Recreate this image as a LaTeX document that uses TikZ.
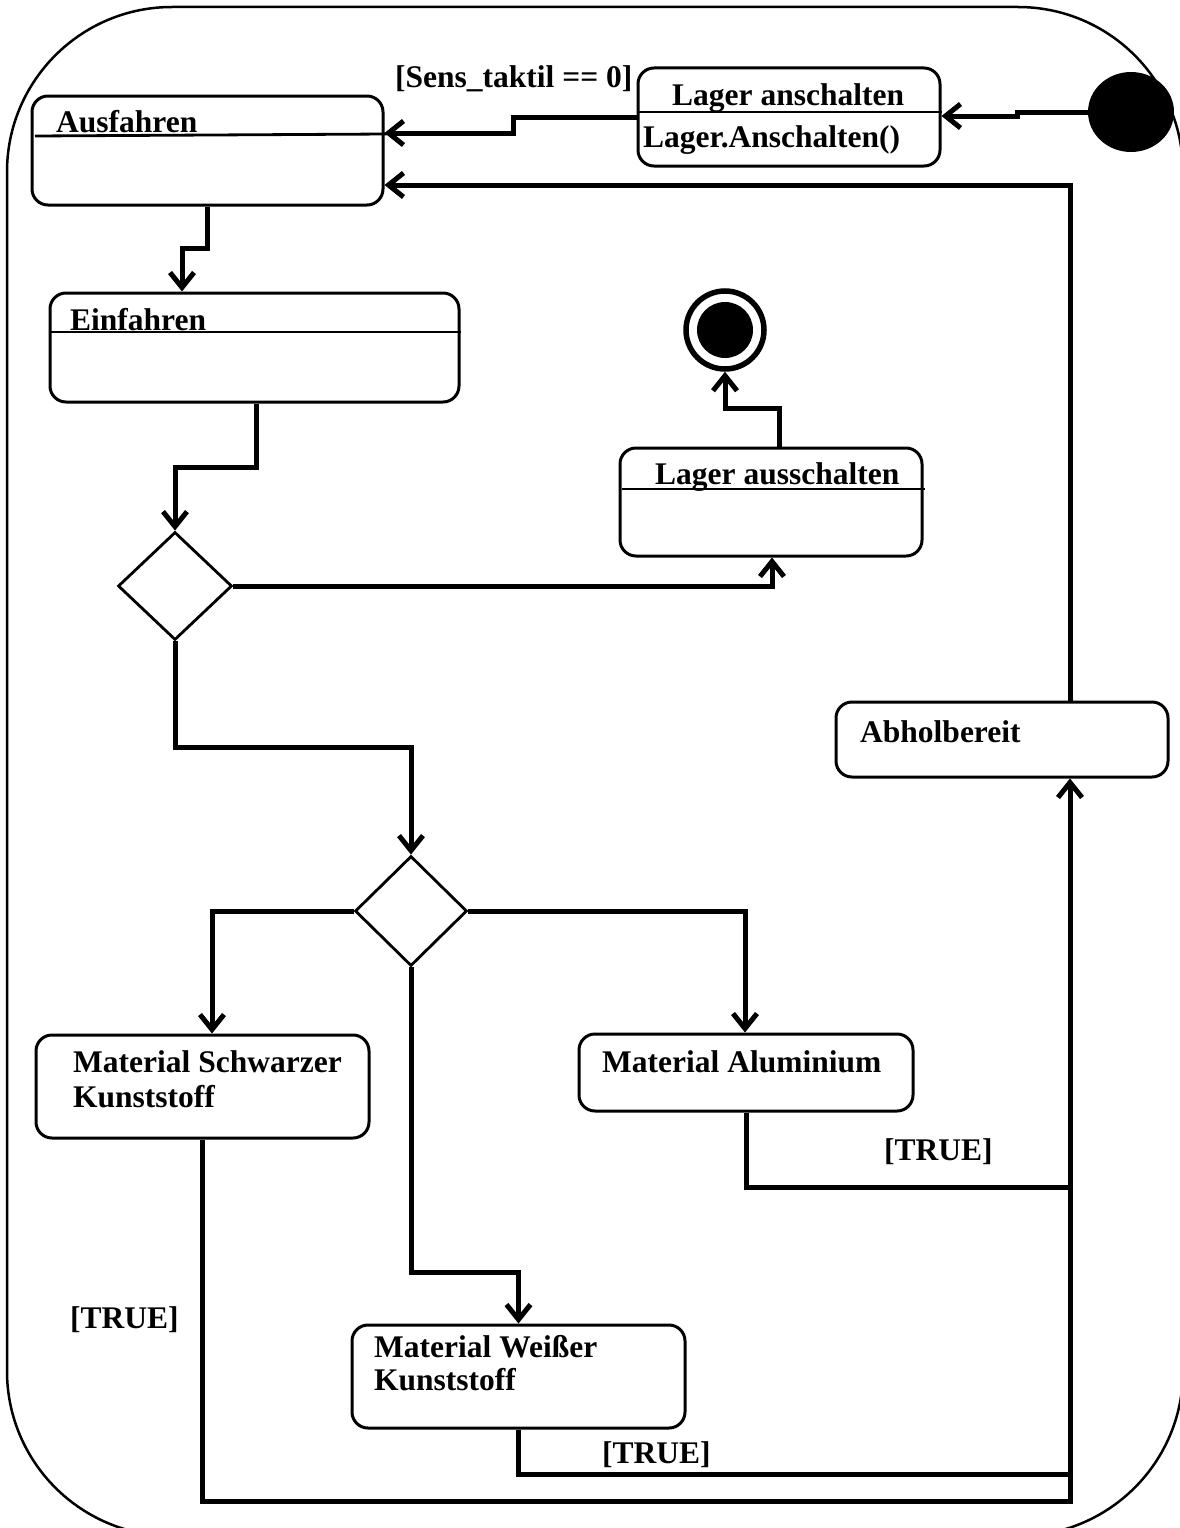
\documentclass[tikz,border=0pt]{standalone}
\usepackage{fontspec}
\setmainfont{Liberation Serif}
\usetikzlibrary{shapes.geometric,arrows.meta}
\tikzset{
  box/.style={draw, line width=3pt, rounded corners=16pt, inner sep=0pt},
  divider/.style={line width=2.8pt},
  conn/.style={line width=5pt, line join=miter},
  arr/.style={conn, -{Straight Barb[length=15pt,width=24pt]}},
  lbl/.style={anchor=base west, inner sep=0pt, font=\fontsize{31.5}{35}\selectfont\bfseries},
  dec/.style={diamond, draw, line width=2.8pt, inner sep=0pt},
  frame/.style={line width=2.5pt, rounded corners=165pt}
}
\begin{document}
\begin{tikzpicture}[x=1pt,y=-1pt]
\useasboundingbox (0,0) rectangle (1180,1528);
\clip (0,0) rectangle (1180,1528);
\draw[frame] (7,7) rectangle (1183,1536);

% states
\node[box, minimum width=351pt, minimum height=109pt] (aus) at (207.5,150.5) {};
\node[box, minimum width=302pt, minimum height=98pt] (lan) at (789,117) {};
\node[box, minimum width=409pt, minimum height=109pt] (ein) at (254.5,347.5) {};
\node[box, minimum width=302pt, minimum height=108pt] (laus) at (771,502) {};
\node[box, minimum width=332pt, minimum height=75pt] (abh) at (1002,739.5) {};
\node[box, minimum width=333pt, minimum height=103pt] (sch) at (202.5,1086.5) {};
\node[box, minimum width=334pt, minimum height=77pt] (alu) at (746,1072.5) {};
\node[box, minimum width=333pt, minimum height=103pt] (wei) at (518.5,1376.5) {};

% dividers
\draw[divider] (35,136) -- (387,134);
\draw[divider] (lan.west |- 0,112) -- (lan.east |- 0,112);
\draw[divider] (ein.west |- 0,332) -- (ein.east |- 0,332);
\draw[divider] (622,489) -- (925,489);

% decisions
\node[dec, minimum width=114pt, minimum height=108pt] (d1) at (175,586) {};
\node[dec, minimum width=112pt, minimum height=110pt] (d2) at (411,911) {};

% initial and final
\node[ellipse, fill=black, minimum width=86pt, minimum height=80pt, inner sep=0pt] (init) at (1131,112) {};
\node[circle, draw, line width=5.5pt, minimum size=78pt, inner sep=0pt] (fin) at (725,330) {};
\node[circle, fill=black, minimum size=56pt, inner sep=0pt] (finin) at (fin.center) {};

% texts
\node[lbl] (g1) at (395,88) {[Sens\_taktil == 0]};
\node[lbl] (tlan) at (672,105) {Lager anschalten};
\node[lbl] (tlan2) at (643,147) {Lager.Anschalten()};
\node[lbl] (taus) at (56,132) {Ausfahren};
\node[lbl] (tein) at (70,330) {Einfahren};
\node[lbl] (tlaus) at (655,484) {Lager ausschalten};
\node[lbl] (tabh) at (860,742) {Abholbereit};
\node[lbl] (tsch1) at (73,1072) {Material Schwarzer};
\node[lbl] (tsch2) at (73,1107) {Kunststoff};
\node[lbl] (talu) at (602,1072) {Material Aluminium};
\node[lbl] (twei1) at (374,1357) {Material Weißer};
\node[lbl] (twei2) at (374,1390) {Kunststoff};
\node[lbl] (tr1) at (884,1160) {[TRUE]};
\node[lbl] (tr2) at (70,1328) {[TRUE]};
\node[lbl] (tr3) at (602,1463) {[TRUE]};

% junction ends
\coordinate (j1) at (1070,1474);
\coordinate (j2) at (1070,1187);

% connectors
\draw[arr] (init.west) -- (1017,112) -- (1017,116) -- (lan.east |- 0,116);
\draw[arr] (lan.west) -- (513,117) -- (513,133) -- (aus.east |- 0,133);
\draw[arr] (abh.north -| 1070,0) -- (1070,185) -- (aus.east |- 0,185);
\draw[arr] (aus.south) -- (207.5,248) -- (182,248) -- (ein.north -| 182,0);
\draw[arr] (ein.south -| 256,0) -- (256,467) -- (175,467) -- (d1.north);
\draw[arr] (d1.east) -- (772,586) -- (laus.south -| 772,0);
\draw[arr] (laus.north -| 779,0) -- (779,408) -- (725,408) -- (fin.south);
\draw[arr] (d1.south) -- (175,747) -- (411,747) -- (d2.north);
\draw[arr] (d2.west) -- (212,911) -- (sch.north -| 212,0);
\draw[arr] (d2.east) -- (745,911) -- (alu.north -| 745,0);
\draw[arr] (d2.south) -- (411,1272) -- (518.5,1272) -- (wei.north);
\draw[arr] (sch.south) -- (202.5,1501) -- (1070,1501) -- (abh.south -| 1070,0);
\draw[conn] (wei.south) -- (518.5,1474) -- (j1);
\draw[conn] (alu.south) -- (746,1187) -- (j2);
\end{tikzpicture}
\end{document}
